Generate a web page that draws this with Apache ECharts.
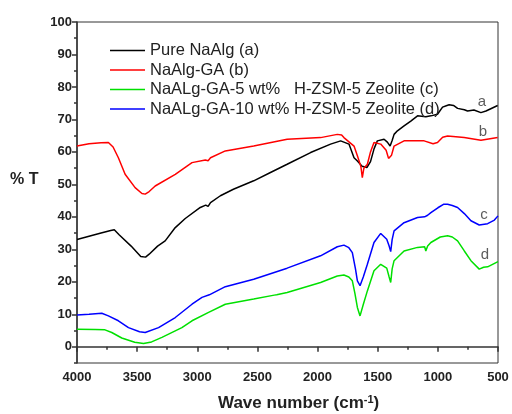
<!DOCTYPE html>
<html><head><meta charset="utf-8">
<script src="https://cdn.jsdelivr.net/npm/echarts@6/dist/echarts.min.js"></script>
<style>html,body{margin:0;padding:0;background:#fff}#c{width:512px;height:414px}</style>
</head><body><div id="c"></div>
<script>
// Series names (legend text)
const seriesNames = ["Pure NaAlg (a)", "NaAlg-GA (b)", "NaALg-GA-5 wt%   H-ZSM-5 Zeolite (c)", "NaALg-GA-10 wt% H-ZSM-5 Zeolite (d)"];
const seriesColors = ["#000000", "#ff0000", "#00e000", "#0000ff"];

// Curve a: Pure NaAlg
const aWn = [4000,3900,3800,3720,3690,3650,3550,3470,3430,3400,3330,3267,3183,3100,2975,2930,2910,2890,2808,2700,2531,2400,2253,2058,1892,1808,1739,1697,1669,1630,1590,1560,1530,1503,1447,1420,1397,1380,1364,1336,1281,1225,1169,1100,1058,1003,961,930,906,870,836,780,753,700,642,600,560,503];
const aT  = [33.0,34.0,35.0,35.8,36.0,34.5,31.0,27.8,27.6,28.5,31.0,32.6,36.7,39.5,42.9,43.6,43.2,44.4,46.5,48.5,51.1,53.5,56.2,59.8,62.4,63.4,62.4,58.2,57.2,55.6,55.2,57.0,61.0,63.4,63.9,63.0,61.8,63.5,65.4,66.5,68.0,69.5,71.1,70.8,71.1,71.6,73.8,74.2,74.5,74.3,73.4,73.0,72.6,72.9,72.1,72.6,73.3,74.3];

// Curve b: NaAlg-GA
const bWn = [4000,3900,3800,3739,3700,3656,3600,3517,3460,3433,3400,3350,3183,3044,2933,2910,2890,2767,2531,2253,1975,1836,1800,1781,1697,1669,1640,1628,1615,1586,1560,1531,1475,1430,1410,1397,1385,1364,1281,1114,1040,1003,960,919,781,642,503];
const bT  = [61.8,62.5,62.8,62.9,61.5,58.2,53.1,49.0,47.2,47.0,47.8,49.5,53.1,56.7,57.5,57.3,58.2,60.3,61.8,63.9,64.4,65.4,65.2,64.4,61.8,58.8,55.5,52.1,55.0,56.2,60.0,62.9,62.4,60.5,58.0,57.7,59.0,61.8,63.4,63.4,62.5,62.9,64.5,64.9,64.4,63.6,64.4];

// Curve 5 wt% (green)
const cWn = [4000,3850,3767,3711,3628,3520,3447,3380,3294,3128,3044,2906,2767,2531,2360,2350,2340,2253,1975,1836,1781,1740,1711,1690,1669,1647,1620,1586,1531,1475,1425,1405,1392,1380,1364,1281,1169,1110,1100,1085,1058,980,919,880,836,780,725,656,620,586,500];
const cT  = [5.4,5.3,5.2,4.4,2.7,1.4,1.0,1.5,2.9,5.9,8.0,10.6,13.1,14.7,15.9,15.3,16.0,16.7,19.8,21.8,22.1,21.5,20.3,16.5,12.1,9.5,13.0,17.2,23.4,25.4,24.2,21.5,19.8,24.0,26.5,29.5,30.6,30.8,29.5,31.0,32.1,33.8,34.2,33.8,32.6,29.5,26.5,23.9,24.5,24.6,26.2];

// Curve 10 wt% (blue)
const dWn = [4000,3900,3794,3739,3656,3572,3480,3433,3322,3183,3044,2961,2900,2767,2531,2253,1975,1836,1781,1740,1711,1685,1669,1647,1620,1586,1531,1475,1425,1405,1392,1380,1364,1281,1169,1110,1100,1085,1058,1000,950,919,880,836,780,725,656,586,530,500];
const dT  = [9.8,10.0,10.3,9.5,8.0,5.9,4.6,4.4,5.9,9.0,13.1,15.2,16.0,18.5,20.8,24.2,28.0,30.8,31.3,30.5,29.0,24.0,20.3,18.8,21.5,25.4,32.1,34.9,33.1,31.0,29.3,33.0,35.7,38.2,39.8,40.0,39.4,40.5,41.3,42.8,43.9,43.9,43.5,42.9,41.0,38.8,37.5,37.9,39.0,40.3];

// Curve letter labels near right end
const tagText = ["a", "b", "c", "d"];
const tagWn   = [633, 625, 617, 608];
const tagT    = [75.4, 66.2, 40.6, 28.3];

// Axis ticks
const yMajor = [0,10,20,30,40,50,60,70,80,90,100];
const yMinor = [-5,5,15,25,35,45,55,65,75,85,95];

const zip = (xs, ys) => xs.map((x, i) => [x, ys[i]]);
const FONT = 'Arial, "Liberation Sans", sans-serif';
const AXC = '#333';

const chart = echarts.init(document.getElementById('c'), null, {renderer: 'canvas'});
const lineSeries = [
  {name: seriesNames[0], data: zip(aWn, aT), color: seriesColors[0]},
  {name: seriesNames[1], data: zip(bWn, bT), color: seriesColors[1]},
  {name: seriesNames[2], data: zip(cWn, cT), color: seriesColors[2]},
  {name: seriesNames[3], data: zip(dWn, dT), color: seriesColors[3]}
].map(s => ({
  type: 'line', name: s.name, data: s.data, symbol: 'none', smooth: false,
  lineStyle: {color: s.color, width: 1.5}, itemStyle: {color: s.color}, animation: false
}));

chart.setOption({
  animation: false,
  grid: {left: 77, right: 14, top: 22, bottom: 51, show: true, borderColor: AXC, borderWidth: 1},
  legend: {
    data: seriesNames, orient: 'vertical', left: 105, top: 37,
    icon: 'rect', itemWidth: 35, itemHeight: 1.6, itemGap: 2.5,
    textStyle: {fontFamily: FONT, fontSize: 16.5, color: '#222', lineHeight: 16},
    backgroundColor: 'transparent'
  },
  xAxis: {
    type: 'value', inverse: true, min: 500, max: 4000, interval: 500,
    axisLine: {show: true, lineStyle: {color: AXC, width: 1.5}},
    axisTick: {show: true, length: 5, inside: false, lineStyle: {color: AXC, width: 1.5}},
    minorTick: {show: true, splitNumber: 2, length: 3, lineStyle: {color: AXC, width: 1.5}},
    axisLabel: {fontFamily: FONT, fontSize: 13, fontWeight: 'bold', color: '#222', margin: 8,
                formatter: v => String(v)},
    splitLine: {show: false}, minorSplitLine: {show: false}
  },
  yAxis: [
    {
      type: 'value', min: -5, max: 100, interval: 5,
      axisLine: {show: true, lineStyle: {color: AXC, width: 1.5}},
      axisTick: {show: true, length: 5, customValues: yMajor, lineStyle: {color: AXC, width: 1.5}},
      axisLabel: {customValues: yMajor, fontFamily: FONT, fontSize: 13, fontWeight: 'bold', color: '#222', margin: 5,
                  formatter: v => String(v)},
      splitLine: {show: false}
    },
    {
      type: 'value', min: -5, max: 100, interval: 5, position: 'left',
      axisLine: {show: false},
      axisTick: {show: true, length: 3, customValues: yMinor, lineStyle: {color: AXC, width: 1.5}},
      axisLabel: {show: false},
      splitLine: {show: false}
    }
  ],
  series: lineSeries.concat([{
    type: 'scatter', name: 'tags', symbol: 'circle', symbolSize: 1,
    itemStyle: {color: 'rgba(0,0,0,0)'},
    data: tagWn.map((w, i) => [w, tagT[i], tagText[i]]),
    label: {show: true, position: 'inside', formatter: p => p.value[2],
            fontFamily: FONT, fontSize: 15, color: '#333'},
    silent: true, animation: false
  }]),
  graphic: [
    {type: 'text', left: 10, top: 172, style: {text: '% T', font: 'bold 16px ' + FONT, fill: '#222'}},
    {type: 'text', left: 218, top: 394,
     style: {
       text: 'Wave number (cm{sup|-1})',
       rich: {sup: {font: 'bold 11px ' + FONT, fill: '#222', verticalAlign: 'top', padding: [0,0,7,0]}},
       font: 'bold 17px ' + FONT, fill: '#222'
     }}
  ]
});
</script></body></html>
